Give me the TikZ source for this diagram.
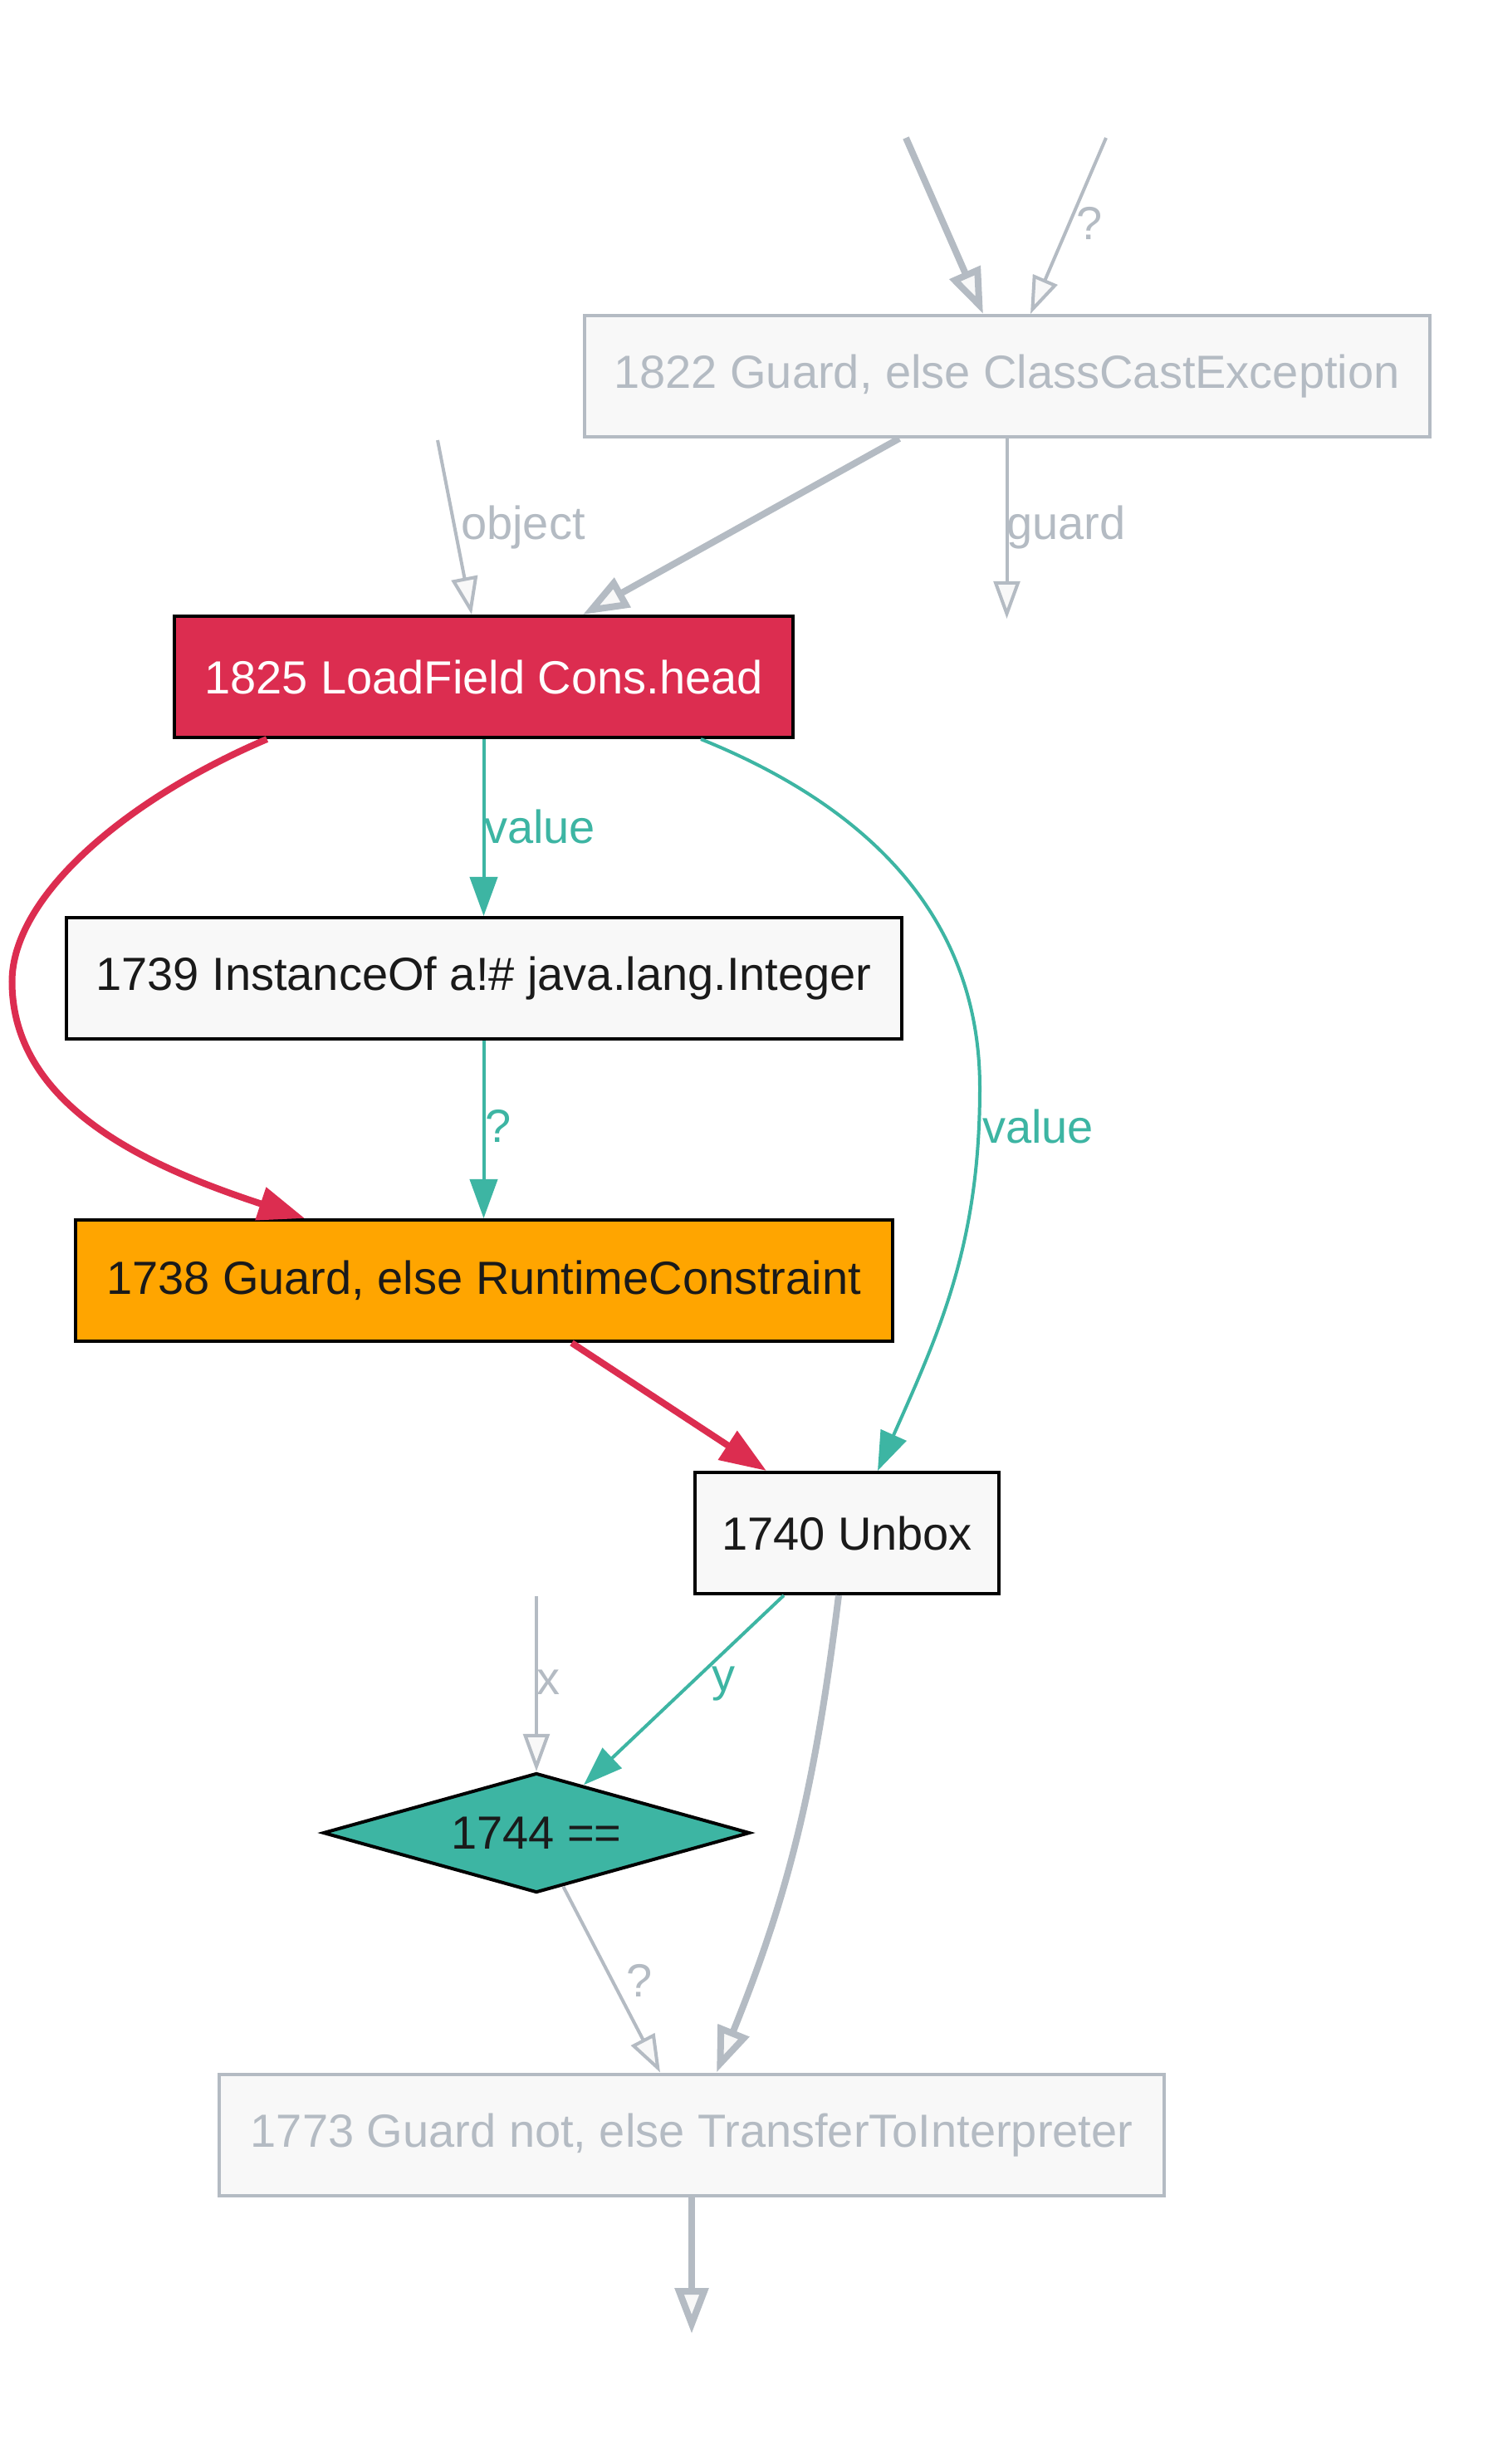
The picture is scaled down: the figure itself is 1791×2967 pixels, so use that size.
\documentclass[tikz,border=0pt]{standalone}
\usepackage{fontspec}
\setmainfont{Liberation Sans}
\usetikzlibrary{arrows.meta,shapes.geometric,calc}
\definecolor{gr}{HTML}{B4BBC3}
\definecolor{rd}{HTML}{DC2D50}
\definecolor{tl}{HTML}{3DB5A3}
\definecolor{org}{HTML}{FFA500}
\definecolor{nf}{HTML}{F8F8F8}
\definecolor{tx}{HTML}{1A1A1A}
\begin{document}
\begin{tikzpicture}[x=0.25pt,y=-0.25pt,
  font=\fontsize{14}{16}\selectfont,
  box/.style={draw=black, line width=1pt, rectangle, inner sep=0pt, minimum height=36.5pt, text=tx, fill=nf},
  ghost/.style={box, draw=gr, text=gr},
  thinG/.style={draw=gr, line width=1pt, -{Triangle[length=11.3pt,width=7.9pt,fill=nf]}},
  thickG/.style={draw=gr, line width=2pt, -{Triangle[length=13.7pt,width=9.8pt,fill=nf]}},
  tealE/.style={draw=tl, line width=1pt, -{Triangle[length=11.8pt,width=8.3pt]}},
  redE/.style={draw=rd, line width=2pt, -{Triangle[length=14pt,width=10pt]}},
  glab/.style={text=gr, inner sep=0pt},
  tlab/.style={text=tl, inner sep=0pt},
]
\fill[white] (0,0) rectangle (1791,2967);
\useasboundingbox (0,0) rectangle (1791,2967);

% nodes
\node[ghost, minimum width=254.5pt] (n1822) at (1212.5,453) {1822 Guard, else ClassCastException};
\node[box, fill=rd, text=white, minimum width=186.25pt] (n1825) at (582.5,815) {1825 LoadField Cons.head};
\node[box, minimum width=251.5pt] (n1739) at (582.5,1178) {1739 InstanceOf a!\# java.lang.Integer};
\node[box, fill=org, minimum width=246pt] (n1738) at (582.5,1542) {1738 Guard, else RuntimeConstraint};
\node[box, minimum width=91.5pt] (n1740) at (1020,1846) {1740 Unbox};
\node[draw=black, line width=1pt, diamond, shape aspect=3.5, inner sep=0pt,
      minimum width=128.5pt, minimum height=36pt, fill=tl, text=tx] (n1744) at (646,2207) {1744 ==};
\node[ghost, minimum width=284.5pt] (n1773) at (833,2570.5) {1773 Guard not, else TransferToInterpreter};

% free ends
\coordinate (in1) at (1091,166);
\coordinate (in2) at (1332,166);
\coordinate (inObj) at (527,530);
\coordinate (outGuard) at (1212.5,745);
\coordinate (inX) at (646,1922);
\coordinate (out1773) at (833,2810);

% edges
\draw[thickG] (in1) -- ($(n1822.north)+(-28.5,0)$);
\draw[thinG] (in2) -- ($(n1822.north)+(28.5,0)$);
\draw[thickG] ($(n1822.south)+(-129.5,0)$) -- ($(n1825.north)+(119.5,0)$);
\draw[thinG] (inObj) -- ($(n1825.north)+(-14.5,0)$);
\draw[thinG] (n1822.south) -- (outGuard);
\draw[tealE] (n1825.south) -- (n1739.north);
\draw[tealE] (n1739.south) -- (n1738.north);
\draw[redE] ($(n1825.south)+(-261,0)$) .. controls (146,965) and (14.5,1082) .. (14.5,1182)
   .. controls (14.5,1340) and (198,1411) .. ($(n1738.north)+(-215.5,0)$);
\draw[tealE] ($(n1825.south)+(261.5,0)$) to[out=338,in=90] (1180,1310) to[out=270,in=66] ($(n1740.north)+(37,0)$);
\draw[redE] ($(n1738.south)+(106,0)$) -- ($(n1740.north)+(-97,0)$);
\draw[tealE] ($(n1740.south)+(-76,0)$) -- ($(n1744.north)!0.22!(n1744.east)$);
\draw[thinG] (inX) -- (n1744.north);
\draw[thinG] ($(n1744.south)!0.125!(n1744.east)$) -- ($(n1773.north)+(-38,0)$);
\draw[thickG] ($(n1740.south)+(-10,0)$) to[out=263,in=68] ($(n1773.north)+(30,0)$);
\draw[thickG] (n1773.south) -- (out1773);

% labels
\node[glab] (l1) at (1312,269) {?};
\node[glab] (l2) at (630,635) {object};
\node[glab] (l3) at (1284,635) {guard};
\node[tlab] (l4) at (650,995) {value};
\node[tlab] (l5) at (600,1356) {?};
\node[tlab] (l6) at (1250,1356) {value};
\node[tlab] (l7) at (871,2027) {y};
\node[glab] (l8) at (660,2026) {x};
\node[glab] (l9) at (770,2385) {?};
\end{tikzpicture}
\end{document}
